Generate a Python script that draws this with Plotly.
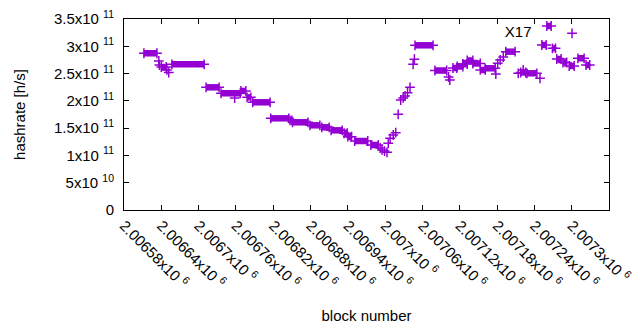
import plotly.graph_objects as go

# Segments of constant hashrate (block range start, end, hashrate in h/s)
seg_start = [2006612, 2006636, 2006637, 2006640, 2006649, 2006652, 2006657, 2006712, 2006736, 2006758,
             2006768, 2006778, 2006787, 2006816, 2006847, 2006851, 2006879, 2006898, 2006913, 2006934,
             2006940, 2006951, 2006977, 2006992, 2006995, 2006999, 2007003, 2007005, 2007008, 2007013,
             2007017, 2007021, 2007025, 2007029, 2007032, 2007036, 2007040, 2007045, 2007047, 2007048,
             2007080, 2007102, 2007104, 2007109, 2007116, 2007125, 2007132, 2007141, 2007153, 2007161,
             2007178, 2007181, 2007185, 2007190, 2007194, 2007214, 2007218, 2007222, 2007228, 2007249,
             2007252, 2007260, 2007269, 2007276, 2007286, 2007296, 2007310, 2007323]
seg_end = [2006633, 2006636, 2006637, 2006648, 2006649, 2006652, 2006709, 2006733, 2006767, 2006758,
           2006776, 2006784, 2006815, 2006845, 2006850, 2006876, 2006895, 2006910, 2006931, 2006939,
           2006946, 2006972, 2006989, 2006992, 2006995, 2006999, 2007003, 2007005, 2007008, 2007013,
           2007017, 2007021, 2007025, 2007029, 2007032, 2007036, 2007040, 2007045, 2007047, 2007077,
           2007099, 2007102, 2007104, 2007115, 2007125, 2007132, 2007141, 2007153, 2007161, 2007177,
           2007178, 2007181, 2007185, 2007190, 2007209, 2007214, 2007226, 2007222, 2007244, 2007249,
           2007259, 2007267, 2007274, 2007283, 2007292, 2007304, 2007320, 2007329]
seg_hashrate = [2.872e11, 2.730e11, 2.657e11, 2.620e11, 2.566e11, 2.520e11, 2.670e11, 2.248e11, 2.139e11, 2.052e11,
                2.181e11, 2.065e11, 1.974e11, 1.680e11, 1.644e11, 1.607e11, 1.552e11, 1.515e11, 1.460e11, 1.406e11,
                1.343e11, 1.264e11, 1.191e11, 1.136e11, 1.100e11, 1.080e11, 1.057e11, 1.222e11, 1.314e11, 1.374e11,
                1.417e11, 1.754e11, 2.016e11, 2.053e11, 2.089e11, 2.150e11, 2.248e11, 2.670e11, 2.762e11, 3.018e11,
                2.556e11, 2.437e11, 2.382e11, 2.602e11, 2.630e11, 2.675e11, 2.740e11, 2.685e11, 2.566e11, 2.597e11,
                2.492e11, 2.688e11, 2.749e11, 2.804e11, 2.901e11, 2.505e11, 2.520e11, 2.566e11, 2.505e11, 2.413e11,
                3.024e11, 3.372e11, 2.963e11, 2.767e11, 2.703e11, 2.639e11, 2.780e11, 2.657e11]

x_tickvals = [2006580, 2006640, 2006700, 2006760, 2006820, 2006880, 2006940, 2007000,
              2007060, 2007120, 2007180, 2007240, 2007300, 2007360]
x_ticktext = ["2.00658x10 <sup>6</sup>", "2.00664x10 <sup>6</sup>", "2.0067x10 <sup>6</sup>",
              "2.00676x10 <sup>6</sup>", "2.00682x10 <sup>6</sup>", "2.00688x10 <sup>6</sup>",
              "2.00694x10 <sup>6</sup>", "2.007x10 <sup>6</sup>", "2.00706x10 <sup>6</sup>",
              "2.00712x10 <sup>6</sup>", "2.00718x10 <sup>6</sup>", "2.00724x10 <sup>6</sup>",
              "2.0073x10 <sup>6</sup>", "2.00736x10 <sup>6</sup>"]
y_tickvals = [0, 5e10, 1e11, 1.5e11, 2e11, 2.5e11, 3e11, 3.5e11]
y_ticktext = ["0", "5x10 <sup>10</sup>", "1x10 <sup>11</sup>", "1.5x10 <sup>11</sup>", "2x10 <sup>11</sup>",
              "2.5x10 <sup>11</sup>", "3x10 <sup>11</sup>", "3.5x10 <sup>11</sup>"]

COLOR = "#9400D3"
FONT = "Liberation Sans, Arial, sans-serif"
FS = 15

band_x, band_y = [], []
pt_x, pt_y = [], []
for s, e, h in zip(seg_start, seg_end, seg_hashrate):
    band_x += [s, e, None]
    band_y += [h, h, None]
    pt_x.append(s); pt_y.append(h)
    if e != s:
        pt_x.append(e); pt_y.append(h)

fig = go.Figure()
fig.add_trace(go.Scatter(x=band_x, y=band_y, mode="lines", line=dict(color=COLOR, width=6.5),
                         showlegend=False, hoverinfo="skip"))
fig.add_trace(go.Scatter(x=pt_x, y=pt_y, mode="markers", name="",
                         marker=dict(symbol="cross-thin", size=7, color=COLOR,
                                     line=dict(color=COLOR, width=1.5))))

axis_common = dict(showline=True, linecolor="black", linewidth=1, mirror="allticks",
                   ticks="inside", ticklen=5, tickcolor="black", showgrid=False, zeroline=False,
                   automargin=False,
                   tickfont=dict(family=FONT, size=FS, color="black"))
fig.update_xaxes(range=[2006580, 2007360], tickvals=x_tickvals, ticktext=x_ticktext, tickangle=45,
                 title=dict(text="block number", font=dict(family=FONT, size=FS, color="black"), standoff=19),
                 **axis_common)
fig.update_yaxes(range=[0, 3.5e11], tickvals=y_tickvals, ticktext=y_ticktext, ticklabelstandoff=6,
                 title=dict(text="hashrate [h/s]", font=dict(family=FONT, size=FS, color="black"), standoff=24),
                 **axis_common)
fig.update_layout(width=640, height=330, margin=dict(l=124, r=31, t=19, b=120),
                  plot_bgcolor="white", paper_bgcolor="white",
                  font=dict(family=FONT, size=FS, color="black"),
                  showlegend=True,
                  legend=dict(x=0.977, y=1.01, xanchor="right", yanchor="top", bgcolor="rgba(0,0,0,0)",
                              title=dict(text="X17&nbsp;&nbsp;&nbsp;", side="left",
                                         font=dict(family=FONT, size=FS, color="black")),
                              font=dict(family=FONT, size=FS, color="black")))
fig.write_html("out.html", config={"displayModeBar": False},
               post_script="document.body.style.margin='0';document.body.style.overflow='hidden';")
